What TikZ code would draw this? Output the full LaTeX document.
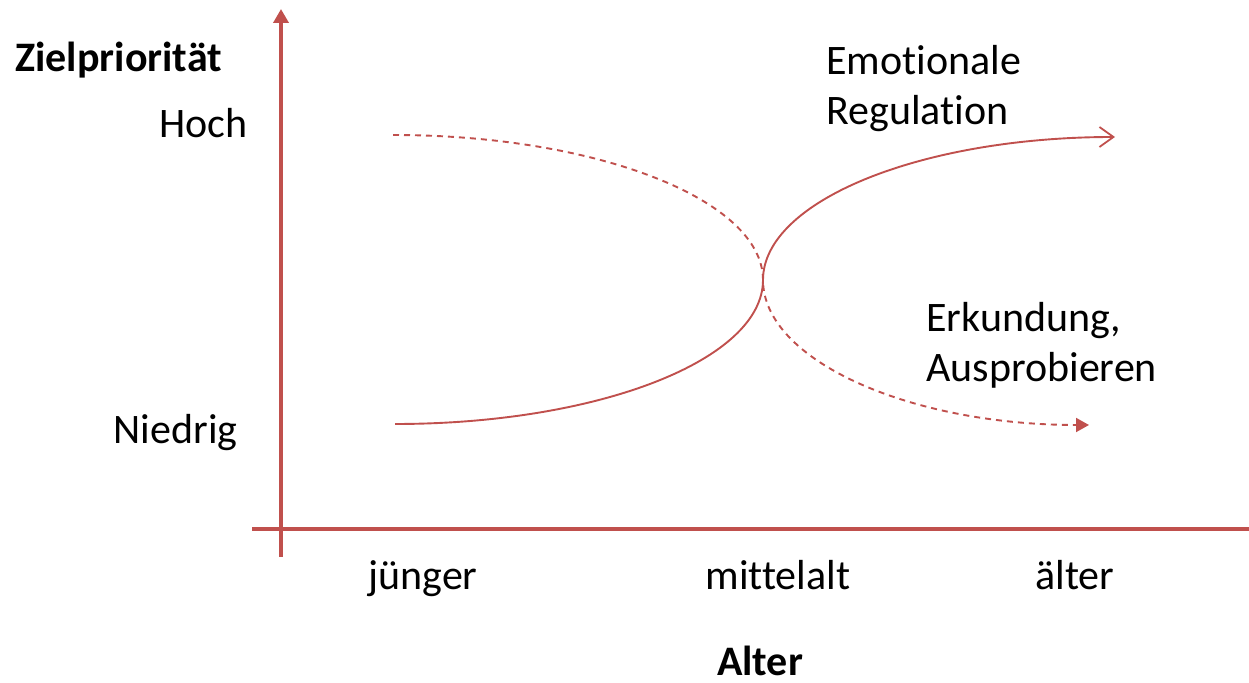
\documentclass[tikz,border=0pt]{standalone}
\usepackage{fontspec}
\setmainfont[Ligatures=NoCommon]{Carlito}
\usetikzlibrary{arrows.meta}
\definecolor{accent}{HTML}{C0504D}
\begin{document}
\begin{tikzpicture}[x=0.5pt,y=-0.5pt,
  axis/.style={draw=accent,line width=2pt},
  curve/.style={draw=accent,line width=0.95pt},
  dashcurve/.style={curve,dash pattern=on 3pt off 2.5pt},
  lbl/.style={inner sep=0pt,font=\fontsize{21}{25}\selectfont,text=black},
  blbl/.style={lbl,font=\fontsize{21}{25}\selectfont\bfseries}]
\useasboundingbox (0,0) rectangle (1249,683);
% axes
\coordinate (ybot) at (281,557);
\coordinate (ytop) at (281,9);
\coordinate (xl) at (252,529);
\coordinate (xr) at (1249,529);
\draw[axis,-{Triangle[length=7pt,width=7.5pt]}] (ybot) -- (ytop);
\draw[axis] (xl) -- (xr);
% curve points
\coordinate (s0) at (395,424);
\coordinate (m) at (763,280);
\coordinate (s1) at (1115,137);
\coordinate (d0) at (393,135);
\coordinate (d1) at (1089,425);
\draw[curve,-{Straight Barb[length=7pt,width=10pt,line width=0.9pt]}]
  (s0) .. controls (598,424) and (763,360) .. (m)
       .. controls (763,201) and (921,137) .. (s1);
\draw[dashcurve,-{Triangle[length=6.5pt,width=7pt]}]
  (d0) .. controls (597,135) and (763,200) .. (m)
       .. controls (763,360) and (909,425) .. (d1);
% labels
\node[blbl,anchor=base west] (zp) at (15,72) {Zielpriorität};
\node[lbl,anchor=base east] (hoch) at (248,138) {Hoch};
\node[lbl,anchor=base east] (nied) at (238,444) {Niedrig};
\node[lbl,anchor=base west,align=left] (emo) at (826,125) {Emotionale\\Regulation};
\node[lbl,anchor=base west,align=left] (erk) at (926,382) {Erkundung,\\Ausprobieren};
\node[lbl,anchor=base] (jung) at (423,590) {jünger};
\node[lbl,anchor=base] (mitt) at (778,590) {mittelalt};
\node[lbl,anchor=base] (alt) at (1075,590) {älter};
\node[blbl,anchor=base] (alter) at (760,676) {Alter};
\end{tikzpicture}
\end{document}
